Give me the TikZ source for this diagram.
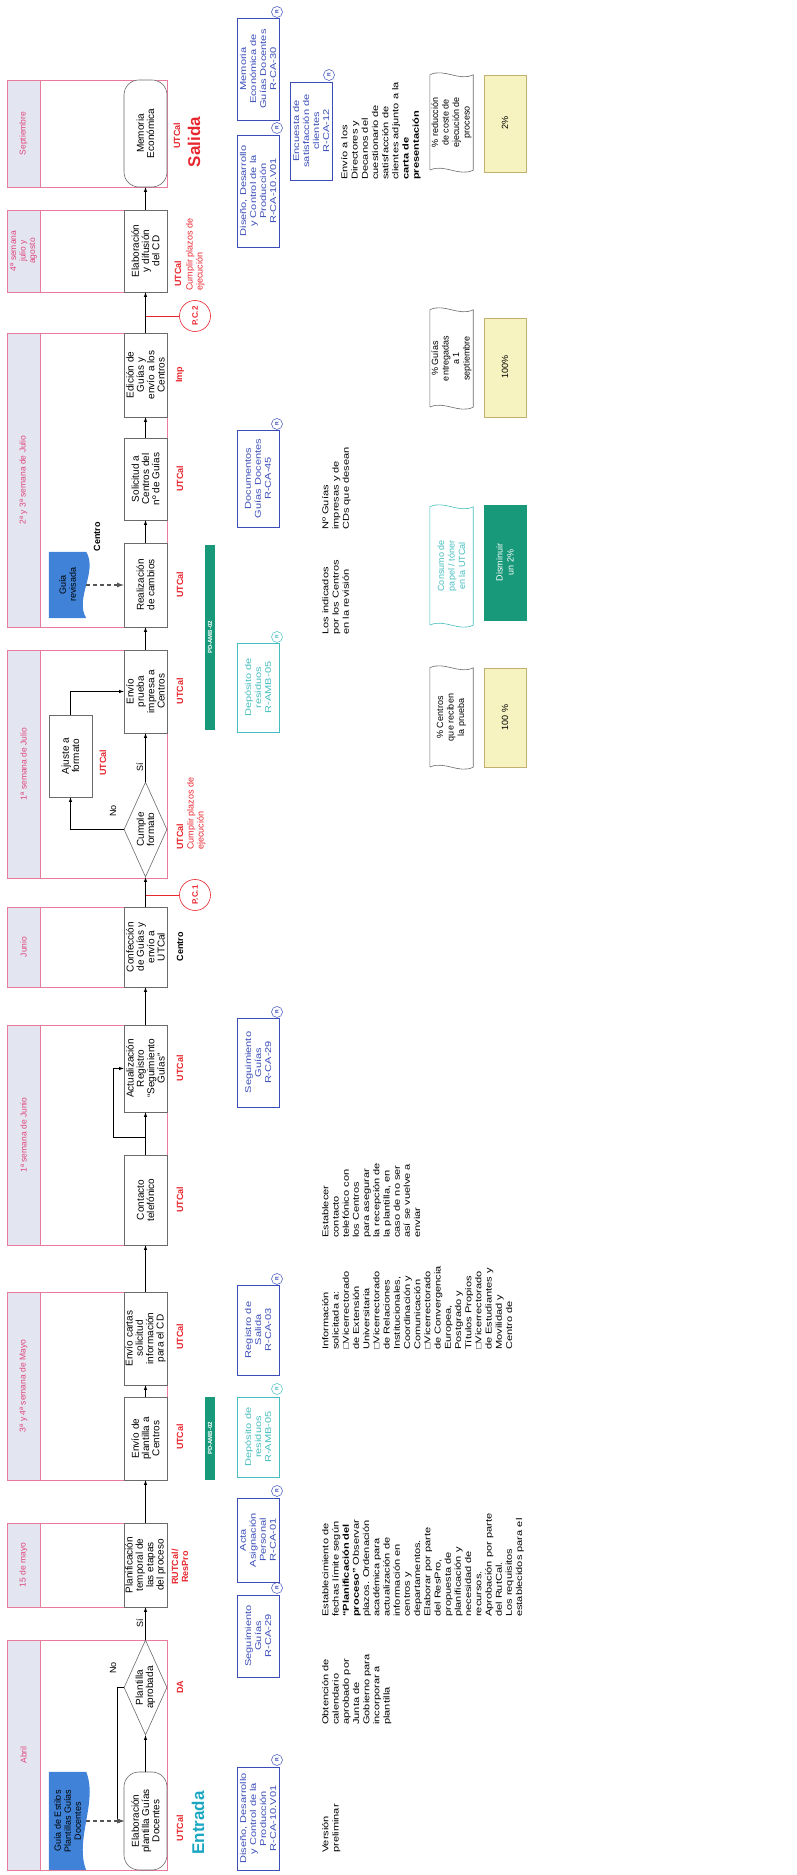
\documentclass[tikz,border=0pt]{standalone}
\usepackage{fontspec}
\setmainfont{Liberation Sans}
\newfontfamily\widefont{Liberation Sans}[FakeStretch=1.3]
\usetikzlibrary{shapes.geometric,backgrounds}
\definecolor{GLane}{HTML}{E97A9B}
\definecolor{GHead}{HTML}{E3E6F1}
\definecolor{GMonth}{HTML}{E0457B}
\definecolor{GBox}{HTML}{6B6B6B}
\definecolor{GRed}{HTML}{E8262E}
\definecolor{GTeal}{HTML}{1BA6C2}
\definecolor{GDoc}{HTML}{3F82D8}
\definecolor{GGreen}{HTML}{18997A}
\definecolor{GRec}{HTML}{3A4DB8}
\definecolor{GRecT}{HTML}{46BDBF}
\definecolor{GYel}{HTML}{F6F3C1}
\definecolor{GYelL}{HTML}{C2B070}
\definecolor{GDash}{HTML}{555555}

\begin{document}
\begin{tikzpicture}[x=1pt,y=1pt,rotate=90,transform shape,
  lane/.style={draw=GLane,line width=.5pt},
  month/.style={text=GMonth,align=center,inner sep=0pt,font=\fontsize{8.5}{9.5}\selectfont},
  proc/.style={draw=GBox,fill=white,line width=.6pt,align=center,minimum height=43,inner sep=0pt,font=\fontsize{10}{10.3}\selectfont},
  term/.style={proc,rounded corners=15},
  ask/.style={diamond,aspect=2.2,draw=GBox,fill=white,line width=.6pt,align=center,inner sep=0pt,minimum width=95,minimum height=43,font=\fontsize{10}{10.3}\selectfont},
  doc/.style={align=center,minimum height=37,inner sep=0pt,font=\fontsize{9}{10}\selectfont},
  resp/.style={text=GRed,inner sep=0pt,font=\bfseries\fontsize{9}{10}\selectfont},
  due/.style={text=GRed,align=left,inner sep=0pt,font=\fontsize{9}{10}\selectfont},
  big/.style={inner sep=0pt,font=\bfseries\fontsize{17}{17}\selectfont},
  pc/.style={circle,draw=GRed,line width=.6pt,minimum size=31,inner sep=0pt,text=GRed,font=\bfseries\fontsize{8}{9}\selectfont},
  bar/.style={fill=GGreen,text=white,minimum height=10,inner sep=0pt,font=\bfseries\fontsize{6}{6}\selectfont},
  rec/.style={draw=GRec,text=GRec,line width=.6pt,align=center,minimum height=42,inner sep=0pt,font=\widefont\fontsize{8.5}{10}\selectfont},
  recteal/.style={rec,draw=GRecT,text=GRecT},
  rmark/.style={circle,draw=GRec,fill=white,text=GRec,line width=.5pt,minimum size=11,inner sep=0pt,font=\bfseries\fontsize{5}{5}\selectfont},
  note/.style={anchor=north west,align=left,inner sep=0pt,font=\widefont\fontsize{8.5}{10.2}\selectfont},
  ind/.style={align=center,minimum height=43,inner sep=0pt,font=\fontsize{9}{10.5}\selectfont},
  val/.style={draw=GYelL,fill=GYel,align=center,minimum height=42,inner sep=0pt,font=\fontsize{9}{11}\selectfont},
  arr/.style={-latex,draw=black,line width=.6pt},
  feed/.style={-latex,draw=GDash,line width=1.3pt,dash pattern=on 4pt off 3pt},
  lbl/.style={inner sep=0pt,font=\fontsize{9}{10}\selectfont}
]
\path[use as bounding box] (0,0) rectangle (1875,-797);

% lanes
\fill[GHead] (5,-7) rectangle (235,-40);
\draw[lane] (5,-7) rectangle (235,-167) (5,-40) -- (235,-40);
\node[month] (mAbr) at (120,-23.5) {Abril};
\fill[GHead] (268,-7) rectangle (352,-40);
\draw[lane] (268,-7) rectangle (352,-167) (268,-40) -- (352,-40);
\node[month] (mMay) at (310,-23.5) {15 de mayo};
\fill[GHead] (395,-7) rectangle (583,-40);
\draw[lane] (395,-7) rectangle (583,-167) (395,-40) -- (583,-40);
\node[month] (mMay2) at (489,-23.5) {3ª y 4ª semana de Mayo};
\fill[GHead] (630,-7) rectangle (850,-40);
\draw[lane] (630,-7) rectangle (850,-167) (630,-40) -- (850,-40);
\node[month] (mJun) at (740,-23.5) {1ª semana de Junio};
\fill[GHead] (888,-7) rectangle (968,-40);
\draw[lane] (888,-7) rectangle (968,-167) (888,-40) -- (968,-40);
\node[month] (mJun2) at (928,-23.5) {Junio};
\fill[GHead] (997,-7) rectangle (1225,-40);
\draw[lane] (997,-7) rectangle (1225,-167) (997,-40) -- (1225,-40);
\node[month] (mJul) at (1111,-23.5) {1ª semana de Julio};
\fill[GHead] (1248,-7) rectangle (1542,-40);
\draw[lane] (1248,-7) rectangle (1542,-167) (1248,-40) -- (1542,-40);
\node[month] (mJul2) at (1395,-23.5) {2ª y 3ª semana de Julio};
\fill[GHead] (1583,-7) rectangle (1665,-40);
\draw[lane] (1583,-7) rectangle (1665,-167) (1583,-40) -- (1665,-40);
\node[month] (mAgo) at (1624,-23.5) {4ª semana\\julio y\\agosto};
\fill[GHead] (1688,-7) rectangle (1795,-40);
\draw[lane] (1688,-7) rectangle (1795,-167) (1688,-40) -- (1795,-40);
\node[month] (mSep) at (1741.5,-23.5) {Septiembre};

% process
\node[term,minimum width=98] (elab) at (54,-145.5) {Elaboración\\plantilla Guías\\Docentes};
\node[ask] (aprob) at (187.5,-145.5) {Plantilla\\aprobada};
\node[proc,minimum width=84] (plan) at (310,-145.5) {Planificación\\temporal de\\las etapas\\del proceso};
\node[proc,minimum width=83] (envpl) at (436.5,-145.5) {Envío de\\plantilla a\\Centros};
\node[proc,minimum width=93] (cartas) at (536.5,-145.5) {Envío cartas\\solicitud\\información\\para el CD};
\node[proc,minimum width=90] (tel) at (675,-145.5) {Contacto\\telefónico};
\node[proc,minimum width=87] (actu) at (806.5,-145.5) {Actualización\\Registro\\“Seguimiento\\Guías”};
\node[proc,minimum width=80] (conf) at (928,-145.5) {Confección\\de Guías y\\envío a\\UTCal};
\node[ask] (cumple) at (1045.5,-145.5) {Cumple\\formato};
\node[proc,minimum width=82] (ajuste) at (1119,-70.5) {Ajuste a\\formato};
\node[proc,minimum width=83] (prueba) at (1183.5,-145.5) {Envío\\prueba\\impresa a\\Centros};
\node[proc,minimum width=84] (cambios) at (1290,-145.5) {Realización\\de cambios};
\node[proc,minimum width=82] (solic) at (1396,-145.5) {Solicitud a\\Centros del\\nº de Guías};
\node[proc,minimum width=84] (edic) at (1500,-145.5) {Edición de\\Guías y\\envío a los\\Centros};
\node[proc,minimum width=82] (difus) at (1624,-145.5) {Elaboración\\y difusión\\del CD};
\node[term,minimum width=107] (memo) at (1741.5,-145.5) {Memoria\\Económica};

% documents
\node[doc,minimum width=98] (estilos) at (54,-67.5) {Guía de Estilos\\Plantillas Guías\\Docentes};
\node[doc,minimum width=66] (revis) at (1290,-67.5) {Guía\\revisada};
\begin{scope}[on background layer]
\fill[GDoc] (estilos.south west) -- (estilos.north west) -- (estilos.north east) -- (estilos.south east)
  .. controls +(-30,-12) and +(30,12) .. (estilos.south west);
\fill[GDoc] (revis.south west) -- (revis.north west) -- (revis.north east) -- (revis.south east)
  .. controls +(-20,-12) and +(20,12) .. (revis.south west);
\end{scope}

% who does it
\node[resp] (uElab) at (47,-180) {UTCal};
\node[big,text=GTeal] (entrada) at (52,-198) {Entrada};
\node[resp] (uAprob) at (187.5,-180) {DA};
\node[resp,align=center] (uPlan) at (308,-180) {RUTCal/\\ResPro};
\node[resp] (uEnvpl) at (438,-180) {UTCal};
\node[resp] (uCartas) at (538,-180) {UTCal};
\node[resp] (uTel) at (675,-180) {UTCal};
\node[resp] (uActu) at (806.5,-180) {UTCal};
\node[resp,text=black] (uConf) at (928,-180) {Centro};
\node[resp,anchor=west] (uCumple) at (1025,-180) {UTCal};
\node[due,anchor=north west] (plazo1) at (1025,-187) {Cumplir plazos de\\ejecución};
\node[resp] (uAjuste) at (1112,-103) {UTCal};
\node[resp] (uPrueba) at (1183.5,-180) {UTCal};
\node[resp] (uCambios) at (1290,-180) {UTCal};
\node[resp] (uSolic) at (1396,-180) {UTCal};
\node[resp] (uEdic) at (1500,-180) {Imp};
\node[resp,anchor=west] (uDifus) at (1588,-178) {UTCal};
\node[due,anchor=north west] (plazo2) at (1584,-186) {Cumplir plazos de\\ejecución};
\node[resp] (uMemo) at (1739,-177) {UTCal};
\node[big,text=GRed] (salida) at (1733,-194) {Salida};

% flow
\draw[arr] (elab) -- (aprob);
\draw[arr] (aprob) -- node[lbl,above=2pt] (si1) {Sí} (plan);
\draw[arr] (aprob.north) -- ++(0,6) -| (elab.north);
\node[lbl] (no1) at (207,-113) {No};
\draw[feed] (estilos.south) -- (elab.north);
\draw[arr] (plan) -- (envpl);
\draw[arr] (envpl) -- (cartas);
\draw[arr] (cartas) -- (tel);
\draw[arr] (tel) -- (actu);
\coordinate (kTel) at (738,-145.5);
\draw[arr] (kTel) -- ++(0,32.5) -| (actu.north);
\draw[arr] (actu) -- (conf);
\draw[arr] (conf) -- (cumple);
\draw[arr] (cumple.north) |- (ajuste.west);
\node[lbl] (no2) at (1064,-113) {No};
\draw[arr] (ajuste.east) -| (prueba.north);
\draw[arr] (cumple) -- node[lbl,above=2pt,pos=.3] (si2) {Sí} (prueba);
\draw[arr] (prueba) -- (cambios);
\draw[feed] (revis.south) -- (cambios.north);
\node[lbl,font=\bfseries\fontsize{9}{10}\selectfont] (cen) at (1338,-97) {Centro};
\draw[arr] (cambios) -- (solic);
\draw[arr] (solic) -- (edic);
\draw[arr] (edic) -- (difus);
\draw[arr] (difus) -- (memo);

% control points
\node[pc] (pc1) at (980,-195) {P.C.1};
\coordinate (kPc1) at (980,-145.5);
\draw[GRed,line width=.6pt] (kPc1) -- (pc1);
\node[pc] (pc2) at (1559,-195) {P.C.2};
\coordinate (kPc2) at (1559,-145.5);
\draw[GRed,line width=.6pt] (kPc2) -- (pc2);

% procedures
\node[bar,minimum width=83] (pd1) at (436.5,-210) {PD-AMB-02};
\node[bar,minimum width=185] (pd2) at (1237.5,-210) {PD-AMB-02};

% records
\node[rec,minimum width=103] (rDis1) at (56.5,-258) {Diseño, Desarrollo\\y Control de la\\Producción\\R-CA-10.V01};
\node[rmark] (mDis1) at (115,-277) {R};
\node[rec,minimum width=82] (rSeg1) at (239,-258) {Seguimiento\\Guías\\R-CA-29};
\node[rmark] (mSeg1) at (287,-277) {R};
\node[rec,minimum width=84] (rActa) at (335,-258) {Acta\\Asignación\\Personal\\R-CA-01};
\node[rmark] (mActa) at (384,-277) {R};
\node[recteal,minimum width=80] (rRes1) at (438,-258) {Depósito de\\residuos\\R-AMB-05};
\node[rmark,draw=GRecT,text=GRecT] (mRes1) at (486,-277) {R};
\node[rec,minimum width=90] (rSal) at (545,-258) {Registro de\\Salida\\R-CA-03};
\node[rmark] (mSal) at (596,-277) {R};
\node[rec,minimum width=89] (rSeg2) at (812.5,-258) {Seguimiento\\Guías\\R-CA-29};
\node[rmark] (mSeg2) at (863,-277) {R};
\node[recteal,minimum width=89] (rRes2) at (1187.5,-258) {Depósito de\\residuos\\R-AMB-05};
\node[rmark,draw=GRecT,text=GRecT] (mRes2) at (1238,-277) {R};
\node[rec,minimum width=97] (rDoc) at (1396.5,-258) {Documentos\\Guías Docentes\\R-CA-45};
\node[rmark] (mDoc) at (1451,-277) {R};
\node[rec,minimum width=112] (rDis2) at (1684,-258) {Diseño, Desarrollo\\y Control de la\\Producción\\R-CA-10.V01};
\node[rmark] (mDis2) at (1747,-277) {R};
\node[rec,minimum width=102] (rMem) at (1806,-258) {Memoria\\Económica de\\Guías Docentes\\R-CA-30};
\node[rmark] (mMem) at (1863,-277) {R};
\node[rec,minimum width=98] (rEnc) at (1744,-311) {Encuesta de\\satisfacción de\\clientes\\R-CA-12};
\node[rmark] (mEnc) at (1800,-329) {R};

% notes
\node[note] (nVer) at (22,-322) {Versión\\preliminar};
\node[note] (nObt) at (150,-322) {Obtención de\\calendario\\aprobado por\\Junta de\\Gobierno para\\incorporar a\\plantilla};
\node[note] (nEst) at (258,-322) {Establecimiento de\\fechas límite según\\\textbf{“Planificación del}\\\textbf{proceso”} Observar\\plazos. Ordenación\\académica para\\actualización de\\información en\\centros y\\departamentos.\\Elaborar por parte\\del ResPro,\\propuesta de\\planificación y\\necesidad de\\recursos.\\Aprobación por parte\\del RutCal.\\Los requisitos\\establecidos para el};
\node[note] (nInf) at (525,-322) {Información\\solicitada a:\\□Vicerrectorado\\de Extensión\\Universitaria\\□Vicerrectorado\\de Relaciones\\Institucionales,\\Coordinación y\\Comunicación\\□Vicerrectorado\\de Convergencia\\Europea,\\Postgrado y\\Títulos Propios\\□Vicerrectorado\\de Estudiantes y\\Movilidad y\\Centro de};
\node[note] (nTel) at (637,-322) {Establecer\\contacto\\telefónico con\\los Centros\\para asegurar\\la recepción de\\la plantilla, en\\caso de no ser\\así se vuelve a\\enviar};
\node[note] (nInd) at (1240,-322) {Los indicados\\por los Centros\\en la revisión};
\node[note] (nNum) at (1345,-322) {Nº Guías\\impresas y de\\CDs que desean};
\node[note] (nDir) at (1695,-341) {Envío a los\\Directores y\\Decanos del\\cuestionario de\\satisfacción de\\clientes adjunto a la\\\textbf{carta de}\\\textbf{presentación}};

% indicators
\node[ind,minimum width=99] (iCen) at (1157.5,-451.5) {\%~Centros\\que reciben\\la prueba};
\draw[GBox,line width=.6pt] (iCen.north west) -- (iCen.north east) .. controls +(7,-14) and +(-7,14) .. (iCen.south east)
  -- (iCen.south west) .. controls +(-7,14) and +(7,-14) .. (iCen.north west);
\node[ind,text=GRecT,minimum width=118] (iCon) at (1309,-451.5) {Consumo de\\papel / tóner\\en la UTCal};
\draw[GRecT,line width=.6pt] (iCon.north west) -- (iCon.north east) .. controls +(7,-14) and +(-7,14) .. (iCon.south east)
  -- (iCon.south west) .. controls +(-7,14) and +(7,-14) .. (iCon.north west);
\node[ind,minimum width=97] (iGui) at (1516.5,-451.5) {\%~Guías\\entregadas\\a 1\\septiembre};
\draw[GBox,line width=.6pt] (iGui.north west) -- (iGui.north east) .. controls +(7,-14) and +(-7,14) .. (iGui.south east)
  -- (iGui.south west) .. controls +(-7,14) and +(7,-14) .. (iGui.north west);
\node[ind,minimum width=95] (iRed) at (1752.5,-451.5) {\%~reducción\\de coste de\\ejecución de\\proceso};
\draw[GBox,line width=.6pt] (iRed.north west) -- (iRed.north east) .. controls +(7,-14) and +(-7,14) .. (iRed.south east)
  -- (iRed.south west) .. controls +(-7,14) and +(7,-14) .. (iRed.north west);

% targets
\node[val,minimum width=99] (vCen) at (1157.5,-505) {100 \%};
\node[val,fill=GGreen,draw=GGreen,text=white,minimum width=115] (vCon) at (1312.5,-505) {Disminuir\\un 2\%};
\node[val,minimum width=99] (vGui) at (1507.5,-505) {100\%};
\node[val,minimum width=97] (vRed) at (1751.5,-505) {2\%};
\end{tikzpicture}
\end{document}
